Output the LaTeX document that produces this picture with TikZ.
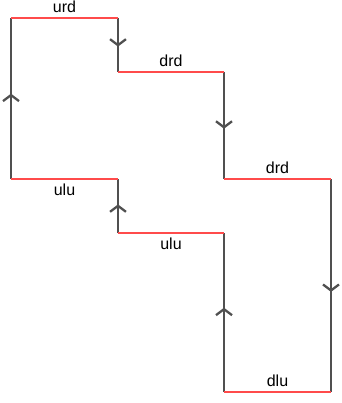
\documentclass[tikz,border=0pt]{standalone}
\usepackage{fontspec}
\setmainfont{Liberation Sans}
\usetikzlibrary{arrows.meta,decorations.markings}
\definecolor{segred}{RGB}{255,75,75}
\definecolor{seggray}{RGB}{80,80,80}
\tikzset{
  hseg/.style={draw=segred,line width=2.7pt},
  vseg/.style={draw=seggray,line width=2.9pt,
    postaction={decorate,decoration={markings,mark=at position 0.53 with {\arrow[seggray,line width=2.3pt]{Straight Barb[length=6pt,width=16pt]}}}}},
  lbl/.style={font=\fontsize{16}{18}\selectfont,inner sep=0pt}
}
\begin{document}
\begin{tikzpicture}[x=1pt,y=-1pt]
\useasboundingbox (0,0) rectangle (341,403);
\coordinate (a) at (11,179);
\coordinate (b) at (11,18);
\coordinate (c) at (118,18);
\coordinate (d) at (118,72);
\coordinate (e) at (224,72);
\coordinate (f) at (224,179);
\coordinate (g) at (331,179);
\coordinate (h) at (331,392);
\coordinate (i) at (224,392);
\coordinate (j) at (224,233);
\coordinate (k) at (118,233);
\coordinate (l) at (118,179);
% vertical segments
\draw[vseg] (a) -- (b);
\draw[vseg] (c) -- (d);
\draw[vseg] (e) -- (f);
\draw[vseg] (g) -- (h);
\draw[vseg] (i) -- (j);
\draw[vseg] (k) -- (l);
% horizontal segments
\draw[hseg] (b) -- node[lbl,above=4pt] (t1) {urd} (c);
\draw[hseg] (d) -- node[lbl,above=4pt] (t2) {drd} (e);
\draw[hseg] (f) -- node[lbl,above=4pt] (t3) {drd} (g);
\draw[hseg] (h) -- node[lbl,above=4pt] (t4) {dlu} (i);
\draw[hseg] (j) -- node[lbl,below=4pt] (t5) {ulu} (k);
\draw[hseg] (l) -- node[lbl,below=4pt] (t6) {ulu} (a);
\end{tikzpicture}
\end{document}
